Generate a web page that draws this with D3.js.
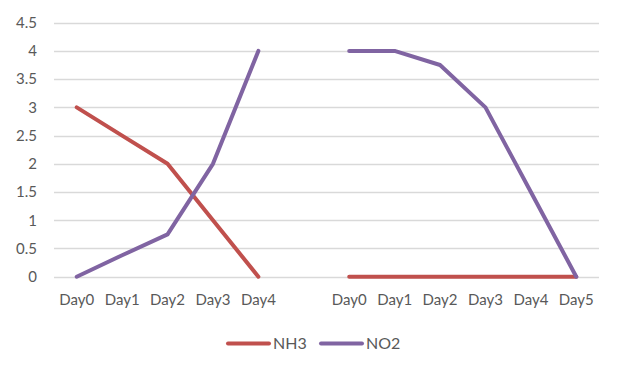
<!DOCTYPE html>
<html>
<head>
<meta charset="utf-8">
<script src="https://cdn.jsdelivr.net/npm/d3@7"></script>
<style>
  body { margin: 0; background: #fff; }
  text { font-family: Lato, "Noto Sans", sans-serif; fill: #595959; }
</style>
</head>
<body>
<svg width="622" height="373"></svg>
<script>
// category labels (the empty one is the gap between the two runs)
const categories = ['Day0', 'Day1', 'Day2', 'Day3', 'Day4', '', 'Day0', 'Day1', 'Day2', 'Day3', 'Day4', 'Day5'];
const nh3 = [3, 2.5, 2, 1, 0, null, 0, 0, 0, 0, 0, 0];
const no2 = [0, 0.38, 0.75, 2, 4, null, 4, 4, 3.75, 3, 1.5, 0];
const yTicks = [0, 0.5, 1, 1.5, 2, 2.5, 3, 3.5, 4, 4.5];

const series = [
  { name: 'NH3', values: nh3, color: '#C0504D' },
  { name: 'NO2', values: no2, color: '#8064A2' }
];

const svg = d3.select('svg');

const x = d3.scaleBand()
  .domain(d3.range(categories.length))
  .range([54, 599])
  .padding(0);

const y = d3.scaleLinear()
  .domain([0, 4.5])
  .range([276.7, 22.7]);

const cx = i => x(i) + x.bandwidth() / 2;

// gridlines
svg.append('g')
  .selectAll('line')
  .data(yTicks)
  .enter()
  .append('line')
  .attr('x1', 54)
  .attr('x2', 599)
  .attr('y1', d => Math.round(y(d)) + 0.5)
  .attr('y2', d => Math.round(y(d)) + 0.5)
  .attr('stroke', '#d9d9d9')
  .attr('stroke-width', 1.3);

// y axis labels
const yAxis = svg.append('g')
  .attr('transform', 'translate(54,0)')
  .call(d3.axisLeft(y).tickValues(yTicks).tickSize(0).tickPadding(17).tickFormat(d => d))
  .attr('font-size', 15)
  .attr('font-family', null);
yAxis.select('.domain').remove();
yAxis.selectAll('text').attr('fill', '#595959');

// x axis labels
const xAxis = svg.append('g')
  .attr('transform', 'translate(0,277)')
  .call(d3.axisBottom(x).tickSize(0).tickPadding(17).tickFormat(i => categories[i]))
  .attr('font-size', 15)
  .attr('font-family', null);
xAxis.select('.domain').remove();
xAxis.selectAll('text').attr('fill', '#595959');

// lines
const line = d3.line()
  .defined(d => d.v !== null)
  .x(d => cx(d.i))
  .y(d => y(d.v));

svg.append('g')
  .selectAll('path')
  .data(series)
  .enter()
  .append('path')
  .attr('d', s => line(s.values.map((v, i) => ({ i, v }))))
  .attr('fill', 'none')
  .attr('stroke', s => s.color)
  .attr('stroke-width', 4)
  .attr('stroke-linecap', 'round')
  .attr('stroke-linejoin', 'round');

// legend
const legend = svg.append('g')
  .selectAll('g')
  .data(series)
  .enter()
  .append('g')
  .attr('transform', (d, i) => `translate(${228 + i * 93},343.5)`);

legend.append('line')
  .attr('x1', 0)
  .attr('x2', 41)
  .attr('stroke', d => d.color)
  .attr('stroke-width', 4)
  .attr('stroke-linecap', 'round');

legend.append('text')
  .attr('x', 45)
  .attr('dy', '0.35em')
  .style('font-size', '16px')
  .text(d => d.name);
</script>
</body>
</html>
